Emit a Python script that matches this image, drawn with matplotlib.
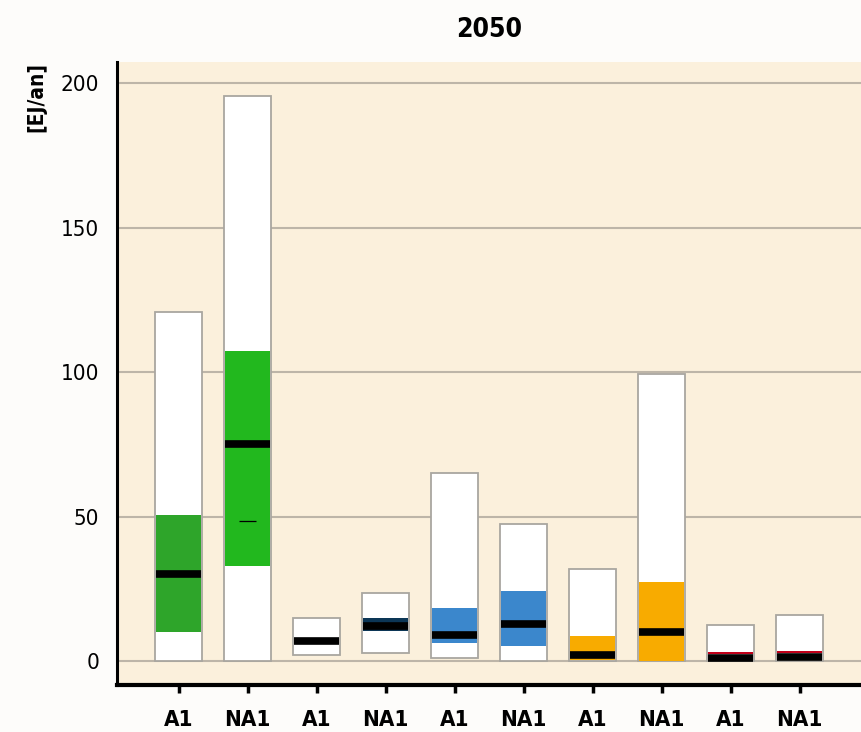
import matplotlib.pyplot as plt

labels = ['A1', 'NA1', 'A1', 'NA1', 'A1', 'NA1', 'A1', 'NA1', 'A1', 'NA1']
mins = [0, 0, 2, 3, 1, 0, 0, 0, 0, 0]
maxs = [121, 195.5, 15, 23.5, 65, 47.5, 32, 99.5, 12.5, 16]
q25 = [10, 33, 5, 10.5, 6.3, 5.2, 0.3, 0, 2.5, 2.8]
q75 = [50.5, 107.5, 5, 15, 18.5, 24.2, 8.7, 27.3, 3.2, 3.5]
medians = [30, 75, 7, 12, 9, 13, 2, 10, 1.2, 1.5]
band_colors = ['#2ea52a', '#22b81e', '#ffffff', '#0c3656', '#3b87cc', '#3b87cc',
               '#f8ab00', '#f8ab00', '#c0001a', '#c0001a']
extra_mark = {1: 48.5}  # small dash inside the NA1 bar

plt.rcParams['font.family'] = ['DejaVu Sans']
plt.rcParams['font.stretch'] = 'condensed'

fig = plt.figure(figsize=(8.61, 7.32), dpi=100, facecolor='#fdfcfa')
ax = fig.add_axes([0.136, 0.064, 0.864, 0.851])
ax.set_facecolor('#fbf0dc')

x = list(range(len(labels)))
w = 0.67

# full range (white) bars
ax.bar(x, [hi - lo for lo, hi in zip(mins, maxs)], bottom=mins, width=w,
       color='white', edgecolor='#a9a6a0', linewidth=1.3, zorder=3)
# interquartile band
ax.bar(x, [b - a for a, b in zip(q25, q75)], bottom=q25, width=w - 0.02,
       color=band_colors, linewidth=0, zorder=4)
# medians
ax.hlines(medians, [i - w / 2 + 0.01 for i in x], [i + w / 2 - 0.01 for i in x],
          color='black', linewidth=5.5, zorder=5)
for i, v in extra_mark.items():
    ax.hlines(v, i - 0.12, i + 0.12, color='black', linewidth=0.9, zorder=5)

ax.set_ylim(-8.3, 207.3)
ax.set_xlim(-0.89, 9.89)
ax.set_yticks([0, 50, 100, 150, 200])
ax.set_xticks(x)
ax.set_xticklabels(labels, fontsize=16, fontweight='bold')
ax.tick_params(axis='y', length=0, labelsize=16, pad=13)
ax.tick_params(axis='x', length=6, width=2.5, pad=12)
ax.grid(axis='y', color='#bdb5a8', linewidth=1.5, zorder=1)
ax.set_axisbelow(True)

for s in ['top', 'right']:
    ax.spines[s].set_visible(False)
ax.spines['left'].set_linewidth(2.2)
ax.spines['bottom'].set_linewidth(3)

ax.set_title('2050', fontsize=19, fontweight='bold', pad=18)
fig.text(0.042, 0.915, '[EJ/an]', rotation=90, fontsize=15, fontweight='bold',
         ha='center', va='top')

fig.savefig('out.png', dpi=100, facecolor=fig.get_facecolor())
